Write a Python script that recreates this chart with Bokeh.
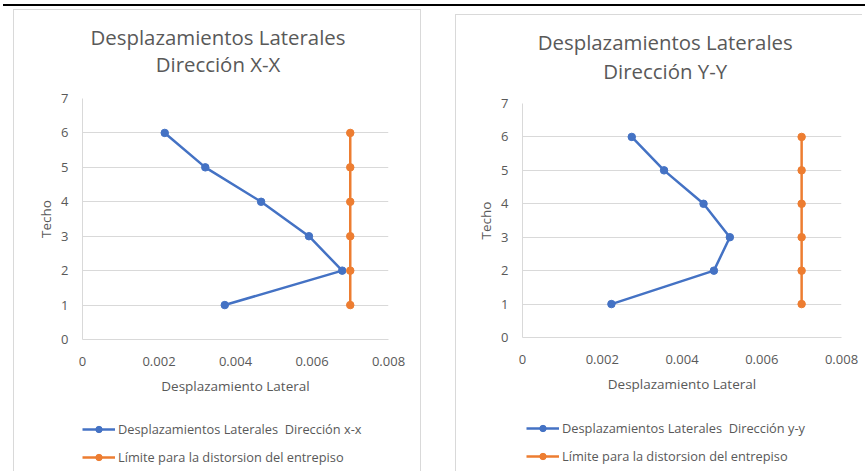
from bokeh.plotting import figure
from bokeh.layouts import row, column, Spacer
from bokeh.models import Range1d, FixedTicker, Label, Legend, LegendItem, Div
from bokeh.embed import file_html
from bokeh.resources import INLINE

# ---- data ----
pisos = [1, 2, 3, 4, 5, 6]
desp_x = [0.00372, 0.00679, 0.00592, 0.00467, 0.00321, 0.00215]
desp_y = [0.00223, 0.00480, 0.00520, 0.00454, 0.00355, 0.00274]
limite = [0.007, 0.007, 0.007, 0.007, 0.007, 0.007]

x_ticks = [0, 0.002, 0.004, 0.006, 0.008]
x_tick_labels = ["0", "0.002", "0.004", "0.006", "0.008"]
y_ticks = [0, 1, 2, 3, 4, 5, 6, 7]
y_tick_labels = ["0", "1", "2", "3", "4", "5", "6", "7"]

titulo_x = ["Desplazamientos Laterales", "Dirección X-X"]
titulo_y = ["Desplazamientos Laterales", "Dirección Y-Y"]
leyenda_x = "Desplazamientos Laterales  Dirección x-x"
leyenda_y = "Desplazamientos Laterales  Dirección y-y"
leyenda_lim = "Límite para la distorsion del entrepiso"
eje_x = "Desplazamiento Lateral"
eje_y = "Techo"

BLUE = "#4472C4"
ORANGE = "#ED7D31"
GRID = "#D9D9D9"
TEXT = "#595959"
FONT = "Open Sans"
BORDER = "1px solid #D9D9D9"


def blank_fig(width, height, styles, y_range=(0, 1)):
    f = figure(width=width, height=height, output_backend="svg", toolbar_location=None,
               x_range=Range1d(0, 1), y_range=Range1d(*y_range),
               x_axis_location=None, y_axis_location=None,
               min_border=0, min_border_left=0, min_border_right=0,
               min_border_top=0, min_border_bottom=0,
               background_fill_color="white", border_fill_color="white",
               outline_line_color=None)
    f.grid.visible = False
    f.styles = styles
    return f


def title_fig(width, height, titles, cx, ys, styles):
    # the frame of this figure is aligned with the chart frame below it
    f = blank_fig(width, height, styles)
    for txt, ty in zip(titles, ys):
        f.add_layout(Label(x=cx, y=ty, x_units="screen", y_units="screen", text=txt,
                           text_align="center", text_baseline="middle",
                           text_font=FONT, text_font_size="20.4px", text_color=TEXT))
    return f


def legend_fig(width, height, desp, leg_label, loc, styles):
    # the series are drawn again here only to supply the legend glyphs;
    # the y range keeps them out of view
    f = blank_fig(width, height, styles, y_range=(-2, -1))
    r1 = f.line(desp, pisos, line_color=BLUE, line_width=2.5)
    s1 = f.scatter(desp, pisos, size=7.5, fill_color=BLUE, line_color=BLUE)
    r2 = f.line(limite, pisos, line_color=ORANGE, line_width=2.5)
    s2 = f.scatter(limite, pisos, size=7.5, fill_color=ORANGE, line_color=ORANGE)
    legend = Legend(items=[LegendItem(label=leg_label, renderers=[r1, s1]),
                           LegendItem(label=leyenda_lim, renderers=[r2, s2])],
                    location=loc, orientation="vertical", padding=0, spacing=10,
                    glyph_width=33, glyph_height=16, label_height=16, label_standoff=3,
                    border_line_color=None, background_fill_alpha=0, margin=0,
                    label_text_font=FONT, label_text_font_size="12.8px", label_text_color=TEXT)
    f.add_layout(legend, "center")
    return f


def chart_fig(width, height, borders, desp, styles):
    p = figure(width=width, height=height, output_backend="svg", toolbar_location=None,
               x_range=Range1d(0, 0.008), y_range=Range1d(0, 7),
               min_border_left=borders[0], min_border_right=borders[1],
               min_border_top=borders[2], min_border_bottom=borders[3],
               background_fill_color="white", border_fill_color="white",
               outline_line_color=None)
    p.styles = styles

    p.xaxis.ticker = FixedTicker(ticks=x_ticks)
    p.xaxis.major_label_overrides = {t: l for t, l in zip(x_ticks, x_tick_labels)}
    p.yaxis.ticker = FixedTicker(ticks=y_ticks)
    p.yaxis.major_label_overrides = {t: l for t, l in zip(y_ticks, y_tick_labels)}
    for ax in (p.xaxis[0], p.yaxis[0]):
        ax.axis_line_color = GRID
        ax.axis_line_width = 1
        ax.major_tick_line_color = None
        ax.minor_tick_line_color = None
        ax.major_tick_out = 0
        ax.major_tick_in = 0
        ax.major_label_text_font = FONT
        ax.major_label_text_font_size = "13px"
        ax.major_label_text_color = TEXT
        ax.axis_label_text_font = FONT
        ax.axis_label_text_font_size = "13.5px"
        ax.axis_label_text_font_style = "normal"
        ax.axis_label_text_color = TEXT
    p.xaxis.axis_label = eje_x
    p.yaxis.axis_label = eje_y
    p.xaxis.major_label_standoff = 17
    p.yaxis.major_label_standoff = 14
    p.xaxis.axis_label_standoff = 8
    p.yaxis.axis_label_standoff = 3

    p.xgrid.grid_line_color = None
    p.ygrid.ticker = FixedTicker(ticks=y_ticks)
    p.ygrid.grid_line_color = GRID
    p.ygrid.grid_line_width = 1

    p.line(desp, pisos, line_color=BLUE, line_width=2.5)
    p.scatter(desp, pisos, size=7.5, fill_color=BLUE, line_color=BLUE)
    p.line(limite, pisos, line_color=ORANGE, line_width=2.5)
    p.scatter(limite, pisos, size=7.5, fill_color=ORANGE, line_color=ORANGE)
    return p


# left panel (content 408 wide, 462 tall)
lt = title_fig(408, 70, titulo_x, 135.5, (43.5, 16.5),
               {"border-left": BORDER, "border-top": BORDER, "border-right": BORDER})
lc = chart_fig(408, 330, (68, 34, 19, 70), desp_x,
               {"border-left": BORDER, "border-right": BORDER})
ll = legend_fig(408, 62, desp_x, leyenda_x, (0, 5.5),
                {"border-left": BORDER, "border-right": BORDER})

# right panel (content 407 wide, 457 tall)
rt = title_fig(407, 70, titulo_y, 142.7, (43.5, 14.8),
               {"border-left": BORDER, "border-top": BORDER})
rc = chart_fig(407, 323, (66, 22, 19, 70), desp_y, {"border-left": BORDER})
rl = legend_fig(407, 64, desp_y, leyenda_y, (4, 6), {"border-left": BORDER})

top_line = Div(text="", width=862, height=2, margin=0,
               styles={"background-color": "#000000"})

layout = column(Spacer(width=10, height=4),
                row(Spacer(width=3, height=2), top_line),
                row(Spacer(width=13, height=1),
                    column(Spacer(width=10, height=3), lt, lc, ll),
                    Spacer(width=34, height=1),
                    column(Spacer(width=10, height=8), rt, rc, rl)))

open("out.html", "w").write(file_html(layout, INLINE))
